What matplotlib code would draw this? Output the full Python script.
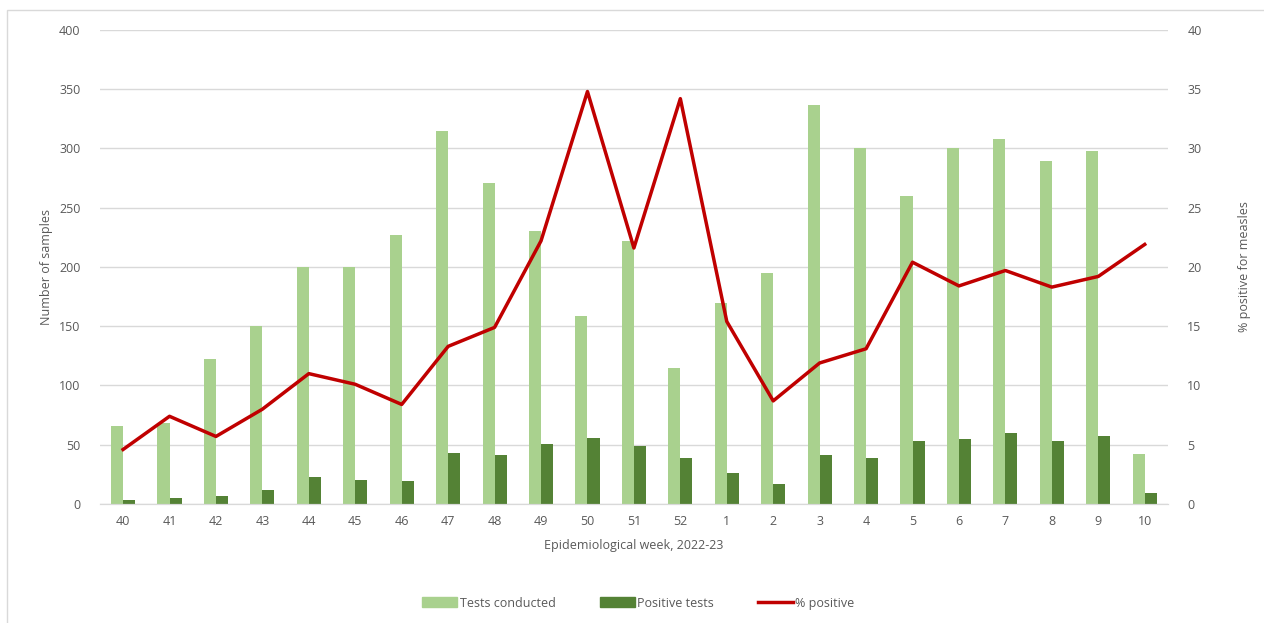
import matplotlib.pyplot as plt
import numpy as np
from matplotlib.lines import Line2D

# ── Data ──────────────────────────────────────────────────────────────────────
weeks = ['40', '41', '42', '43', '44', '45', '46', '47', '48', '49', '50', '51',
         '52', '1', '2', '3', '4', '5', '6', '7', '8', '9', '10']
tests_conducted = [66, 68, 122, 150, 200, 200, 227, 315, 271, 230, 159, 222,
                   115, 170, 195, 337, 300, 260, 300, 308, 289, 298, 42]
positive_tests = [3, 5, 7, 12, 23, 20, 19, 43, 41, 51, 56, 49,
                  39, 26, 17, 41, 39, 53, 55, 60, 53, 57, 9]
pct_positive = [4.6, 7.4, 5.7, 8.0, 11.0, 10.1, 8.4, 13.3, 14.9, 22.2, 34.8, 21.6,
                34.2, 15.4, 8.7, 11.9, 13.1, 20.4, 18.4, 19.7, 18.3, 19.2, 21.9]

# ── Style ─────────────────────────────────────────────────────────────────────
LIGHT = '#A9D18E'
DARK  = '#548235'
RED   = '#C00000'
GREY  = '#595959'
plt.rcParams['font.family'] = ['Open Sans', 'DejaVu Sans']

fig = plt.figure(figsize=(12.64, 6.23), dpi=100)
ax = fig.add_axes([0.079, 0.191, 0.845, 0.761])
ax2 = ax.twinx()

x = np.arange(len(weeks))
w = 0.26
ax.bar(x - w / 2, tests_conducted, width=w, color=LIGHT, zorder=2)
ax.bar(x + w / 2, positive_tests, width=w, color=DARK, zorder=2)
ax2.plot(x, pct_positive, color=RED, linewidth=2.5, zorder=3)

ax.set_xlim(-0.5, len(weeks) - 0.5)
ax.set_ylim(0, 400)
ax.set_yticks(range(0, 401, 50))
ax2.set_ylim(0, 40)
ax2.set_yticks(range(0, 41, 5))
ax.set_xticks(x)
ax.set_xticklabels(weeks)

ax.grid(axis='y', color='#D9D9D9', linewidth=1, zorder=0)
ax.set_axisbelow(True)
for a in (ax, ax2):
    for s in ('top', 'left', 'right'):
        a.spines[s].set_visible(False)
    a.spines['bottom'].set_color('#D9D9D9')
    a.tick_params(length=0, colors=GREY, labelsize=9)
ax.tick_params(axis='x', pad=8)
ax.tick_params(axis='y', pad=14)
ax2.tick_params(axis='y', pad=14)

ax.set_ylabel('Number of samples', color=GREY, fontsize=9, labelpad=4)
ax2.set_ylabel('% positive for measles', color=GREY, fontsize=9, labelpad=26)
ax.set_xlabel('Epidemiological week, 2022-23', color=GREY, fontsize=9, labelpad=8)

handles = [plt.Rectangle((0, 0), 1, 1, color=LIGHT),
           plt.Rectangle((0, 0), 1, 1, color=DARK),
           Line2D([], [], color=RED, linewidth=2.5)]
fig.legend(handles, ['Tests conducted', 'Positive tests', '% positive'],
           loc='center', bbox_to_anchor=(0.505, 0.032), ncol=3, frameon=False,
           fontsize=9, labelcolor=GREY, handlelength=2.8, handleheight=0.9,
           handletextpad=0.2, columnspacing=3.5)

# outer chart frame
fig.add_artist(plt.Rectangle((7 / 1264, -0.01), 1.1, 1 - 10 / 623 + 0.01,
                             transform=fig.transFigure, fill=False,
                             edgecolor='#D9D9D9', linewidth=1))

fig.savefig('out.png', dpi=100)
